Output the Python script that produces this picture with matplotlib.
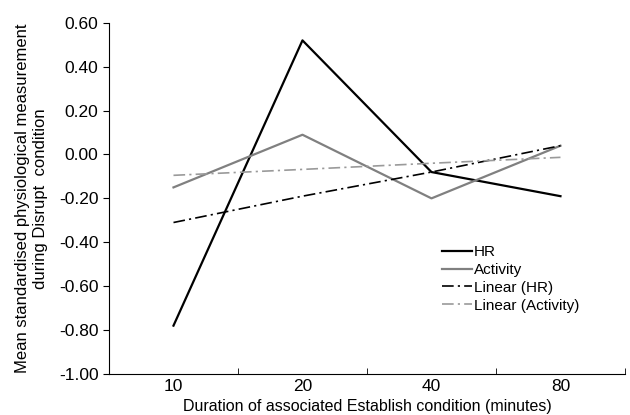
import numpy as np
import matplotlib
matplotlib.use('Agg')
import matplotlib.pyplot as plt

plt.rcParams['font.family'] = ['Liberation Sans', 'DejaVu Sans']

# Veriler
durations = ['10', '20', '40', '80']
hr = [-0.78, 0.52, -0.08, -0.19]
activity = [-0.15, 0.09, -0.20, 0.04]
# Trend lines
linear_hr = [-0.31, -0.19, -0.08, 0.04]
linear_activity = [-0.095, -0.068, -0.04, -0.013]
y_ticks = [-1.0, -0.8, -0.6, -0.4, -0.2, 0.0, 0.2, 0.4, 0.6]

x = np.arange(1, len(durations) + 1)

fig = plt.figure(figsize=(6.3, 4.15), dpi=100)
ax = fig.add_axes([0.173, 0.099, 0.819, 0.846])

trend_dash = (7, 2.5, 1.3, 2.5)
ax.plot(x, hr, color='black', lw=1.6, label='HR')
ax.plot(x, activity, color='#808080', lw=1.6, label='Activity')
ax.plot(x, linear_hr, color='black', lw=1.2, dashes=trend_dash, label='Linear (HR)')
ax.plot(x, linear_activity, color='#9a9a9a', lw=1.2, dashes=trend_dash, label='Linear (Activity)')

ax.set_xlim(0.5, 4.5)
ax.set_ylim(-1.0, 0.6)
ax.set_yticks(y_ticks)
ax.set_yticklabels([f'{v:.2f}'.replace('-0.00', '0.00') for v in y_ticks])
ax.set_xticks(x)
ax.set_xticklabels(durations)
ax.set_xticks(np.arange(0.5, 4.6, 1.0), minor=True)
ax.tick_params(axis='x', which='major', length=0, pad=4, labelsize=12.5)
ax.tick_params(axis='x', which='minor', direction='in', length=4)
ax.tick_params(axis='y', direction='out', length=4, labelsize=12.5)

for s in ['top', 'right']:
    ax.spines[s].set_visible(False)

ax.set_xlabel('Duration of associated Establish condition (minutes)', fontsize=11.5, labelpad=3)
ax.set_ylabel('Mean standardised physiological measurement\nduring Disrupt  condition', fontsize=12, labelpad=8)

ax.legend(loc='upper left', bbox_to_anchor=(0.633, 0.384), frameon=False, fontsize=11,
          handlelength=2.0, handletextpad=0.1, labelspacing=0.25, borderaxespad=0)

plt.savefig('out.png', dpi=100)
